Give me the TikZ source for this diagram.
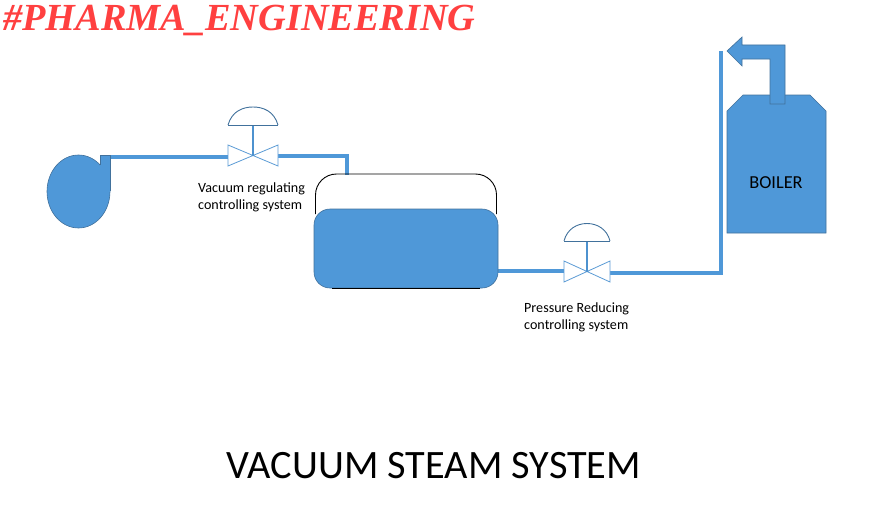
\documentclass[tikz,border=0pt]{standalone}
\usepackage{fontspec}
\setmainfont{Carlito}
\newfontfamily\headfont{Liberation Serif}
\usetikzlibrary{shapes.geometric}
\definecolor{pipeblue}{HTML}{4F98D8}
\definecolor{edgeblue}{HTML}{41719C}
\definecolor{valveblue}{HTML}{5B9BD5}
\definecolor{headred}{HTML}{FF4040}
\tikzset{
  pipe/.style={draw=pipeblue,line width=4pt},
  solid body/.style={fill=pipeblue,draw=edgeblue,line width=0.6pt},
  valve wing/.style={fill=white,draw=valveblue,line width=0.8pt},
  dome/.style={draw=edgeblue,line width=0.9pt},
  stem/.style={draw=pipeblue!85!edgeblue,line width=1.3pt},
  label text/.style={font=\fontsize{14.1}{17}\selectfont,align=left,inner sep=0pt,anchor=base west,text=black},
}
\begin{document}
\begin{tikzpicture}[x=1pt,y=-1pt]
\useasboundingbox (0,0) rectangle (882,511);
% heading and title
\node[anchor=base west,inner sep=0pt,text=headred,font=\headfont\bfseries\itshape\fontsize{38.3}{42}\selectfont] (heading) at (3,31) {\#PHARMA\_ENGINEERING};
\node[anchor=base,inner sep=0pt,font=\fontsize{40.3}{44}\selectfont] (title) at (434,478) {VACUUM STEAM SYSTEM};
% named points
\coordinate (pumpout) at (110,157);
\coordinate (v1l) at (228,157);
\coordinate (v1r) at (278,156);
\coordinate (v1c) at (253,155.5);
\coordinate (v1s) at (253,125);
\coordinate (bend1) at (347,156);
\coordinate (tankin) at (347,175);
\coordinate (tankout) at (497,271);
\coordinate (v2l) at (564,271);
\coordinate (v2r) at (610,273);
\coordinate (v2c) at (587,271.5);
\coordinate (v2s) at (587,241);
\coordinate (bend2) at (721,273);
\coordinate (riser) at (721,51);
% pipes
\draw[pipe] (pumpout) -- (v1l);
\draw[pipe,line join=miter] (v1r) -- (bend1) -- (tankin);
\draw[pipe] (tankout) -- (v2l);
\draw[pipe,line join=miter] (v2r) -- (bend2) -- (riser);
% pump
\node[ellipse,solid body,minimum width=63pt,minimum height=73pt,inner sep=0pt] (pump) at (78.5,191.5) {};
\fill[pipeblue] (100,155) rectangle (110,192);
\draw[edgeblue,line width=0.6pt] (100,165) -- (100,155) -- (110,155) -- (110,191);
% tank
\draw[black,line width=0.9pt] (315.5,214) -- (315.5,195) arc[start angle=180,end angle=270,radius=21] -- (475.5,174) arc[start angle=270,end angle=360,radius=21] -- (496.5,214);
\node[rectangle,rounded corners=16pt,fill=pipeblue,draw=edgeblue,line width=0.6pt,minimum width=184pt,minimum height=79pt,inner sep=0pt] (tank) at (406,248.5) {};
\draw[black,line width=0.8pt] (332,288.3) -- (480,288.3);
% valve 1
\draw[valve wing] (228,145) -- (278,166) -- (278,145) -- (228,166) -- cycle;
\draw[stem] (v1s) -- (v1c);
\draw[dome] (228,125) .. controls (232,111) and (243,107) .. (253,107) .. controls (263,107) and (274,111) .. (278,125);
\draw[dome,line width=0.7pt] (228,125) -- (278,125);
% valve 2
\draw[valve wing] (564,261) -- (610,282) -- (610,261) -- (564,282) -- cycle;
\draw[stem] (v2s) -- (v2c);
\draw[dome] (564,241) .. controls (567,229) and (577,223.5) .. (587,223.5) .. controls (597,223.5) and (607,229) .. (610,241);
\draw[dome,line width=0.7pt] (564,241) -- (610,241);
% boiler
\draw[solid body] (727,111) -- (743,95) -- (810,95) -- (826,111) -- (826,233) -- (727,233) -- cycle;
\node[inner sep=0pt,font=\fontsize{18.3}{20}\selectfont,text=black] (boiler) at (776,182.5) {BOILER};
% bent arrow
\draw[solid body] (727,51) -- (742,37) -- (742,45) -- (785,45) -- (785,104) -- (770,104) -- (770,59) -- (742,59) -- (742,66) -- cycle;
% labels
\node[label text] (lab1a) at (198,192.5) {Vacuum regulating};
\node[label text] (lab1b) at (198,209.5) {controlling system};
\node[label text] (lab2a) at (524,312) {Pressure Reducing};
\node[label text] (lab2b) at (524,329) {controlling system};
\end{tikzpicture}
\end{document}
